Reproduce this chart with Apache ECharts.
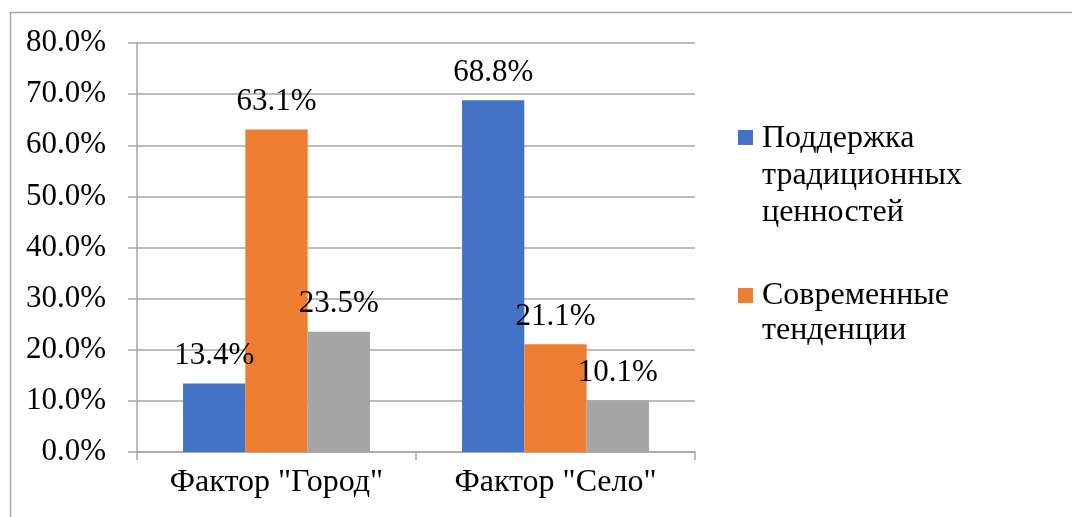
<!DOCTYPE html>
<html><head><meta charset="utf-8">
<script src="https://cdn.jsdelivr.net/npm/echarts@6/dist/echarts.min.js"></script>
<style>html,body{margin:0;padding:0;background:#fff}#c{width:1072px;height:517px}</style>
</head><body><div id="c"></div>
<script>
const categories = ['Фактор "Город"', 'Фактор "Село"'];
const seriesNames = ['Поддержка\nтрадиционных\nценностей', 'Современные\nтенденции', ''];
const valuesTraditional = [13.4, 68.8];
const valuesModern = [63.1, 21.1];
const valuesOther = [23.5, 10.1];
const colors = ['#4472C4', '#ED7D31', '#A5A5A5'];
const yTicks = { min: 0, max: 80, interval: 10 };

const font = "'Liberation Serif', serif";
const chart = echarts.init(document.getElementById('c'), null, { renderer: 'canvas' });
const mk = (name, data, color) => ({
  type: 'bar', name, data,
  barGap: '0%', barCategoryGap: '33%',
  itemStyle: { color },
  label: { show: true, position: 'top', distance: 12, color: '#000', fontFamily: font, fontSize: 31,
    formatter: p => p.value.toFixed(1) + '%' }
});
chart.setOption({
  animation: false,
  grid: { left: 137, right: 377, top: 43, bottom: 65 },
  xAxis: {
    type: 'category', data: categories,
    axisLine: { lineStyle: { color: '#a6a6a6', width: 1.5 } },
    axisTick: { show: true, length: 8, lineStyle: { color: '#a6a6a6', width: 1.5 } },
    axisLabel: { color: '#000', fontFamily: font, fontSize: 32, margin: 15 }
  },
  yAxis: {
    type: 'value', min: yTicks.min, max: yTicks.max, interval: yTicks.interval,
    axisLine: { show: true, lineStyle: { color: '#a6a6a6', width: 1.5 } },
    axisTick: { show: true, length: 9, lineStyle: { color: '#a6a6a6', width: 1.5 } },
    splitLine: { lineStyle: { color: '#a6a6a6', width: 1.5 } },
    axisLabel: { color: '#000', fontFamily: font, fontSize: 31, margin: 31,
      formatter: v => v.toFixed(1) + '%' }
  },
  series: [
    mk(seriesNames[0], valuesTraditional, colors[0]),
    mk(seriesNames[1], valuesModern, colors[1]),
    mk(seriesNames[2], valuesOther, colors[2])
  ],
  graphic: [
    { type: 'rect', shape: { x: 10.5, y: 12.5, width: 1100, height: 600 }, style: { fill: 'none', stroke: '#a6a6a6', lineWidth: 1.5 }, silent: true },
    { type: 'rect', shape: { x: 738, y: 130, width: 15, height: 15 }, style: { fill: colors[0] } },
    { type: 'text', x: 762, y: 120, style: { text: seriesNames[0], fontFamily: font, fontSize: 32, lineHeight: 37, fill: '#000' } },
    { type: 'rect', shape: { x: 738, y: 288, width: 15, height: 15 }, style: { fill: colors[1] } },
    { type: 'text', x: 762, y: 278, style: { text: seriesNames[1], fontFamily: font, fontSize: 32, lineHeight: 35, fill: '#000' } }
  ]
});
</script></body></html>
